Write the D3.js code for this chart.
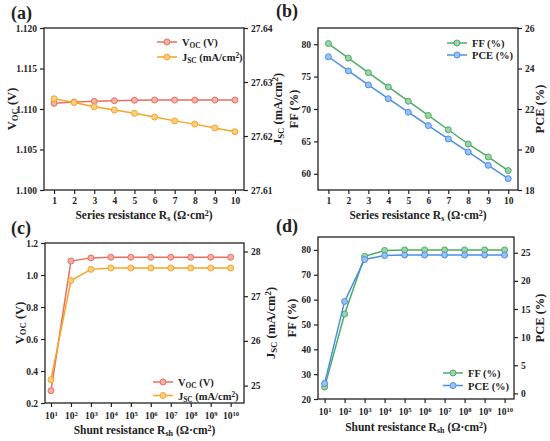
<!DOCTYPE html>
<html>
<head>
<meta charset="utf-8">
<script src="https://cdn.jsdelivr.net/npm/d3@7"></script>
<style>
  body { margin: 0; background: #fff; }
  #chart text { font-family: "Liberation Serif", "Times New Roman", Times, serif !important; font-weight: 700; fill: #222; }
</style>
</head>
<body>
<svg id="chart" width="550" height="441" font-family="Liberation Serif"></svg>
<script>
// series resistance sweep
const rsValues = [1, 2, 3, 4, 5, 6, 7, 8, 9, 10];
const vocRs = [1.1107, 1.11086, 1.11095, 1.11102, 1.11108, 1.1111, 1.1111, 1.1111, 1.1111, 1.1111];
const jscRs = [27.6269, 27.6262, 27.6254, 27.6248, 27.6242, 27.6235, 27.6228, 27.6222, 27.6215, 27.6208];
const ffRs = [80.1, 77.85, 75.6, 73.4, 71.2, 69.0, 66.8, 64.6, 62.6, 60.5];
const pceRs = [24.58, 23.88, 23.19, 22.51, 21.84, 21.18, 20.52, 19.88, 19.22, 18.56];

// shunt resistance sweep
const rshValues = [1e1, 1e2, 1e3, 1e4, 1e5, 1e6, 1e7, 1e8, 1e9, 1e10];
const vocRsh = [0.277, 1.087, 1.107, 1.111, 1.111, 1.111, 1.111, 1.111, 1.111, 1.111];
const jscRsh = [25.13, 27.35, 27.6, 27.63, 27.63, 27.63, 27.63, 27.63, 27.63, 27.63];
const ffRsh = [24.8, 54.2, 77.4, 79.8, 80.0, 80.0, 80.0, 80.0, 80.0, 80.0];
const pceRsh = [1.77, 16.35, 23.8, 24.5, 24.6, 24.6, 24.6, 24.6, 24.6, 24.6];

// tick labels
const vocTicksA = [1.100, 1.105, 1.110, 1.115, 1.120];
const jscTicksA = [27.61, 27.62, 27.63, 27.64];
const ffTicksB = [60, 65, 70, 75, 80];
const pceTicksB = [18, 20, 22, 24, 26];
const vocTicksC = [0.2, 0.4, 0.6, 0.8, 1.0, 1.2];
const jscTicksC = [25, 26, 27, 28];
const ffTicksD = [20, 30, 40, 50, 60, 70, 80];
const pceTicksD = [0, 5, 10, 15, 20, 25];

const red = "#e8705e", orange = "#f5a623", green = "#4cad64", blue = "#4b8eea";

const svg = d3.select("#chart");

// write text made of plain / sub / sup parts
function rich(t, parts) {
  parts.forEach(([s, kind]) => {
    const sp = t.append("tspan").text(s);
    if (kind === "sub") sp.attr("baseline-shift", "-25%").attr("font-size", "70%");
    if (kind === "sup") sp.attr("baseline-shift", "40%").attr("font-size", "70%");
  });
  return t;
}

const vocLabel = [["V", ""], ["OC", "sub"], [" (V)", ""]];
const jscLabel = [["J", ""], ["SC", "sub"], [" (mA/cm", ""], ["2", "sup"], [")", ""]];
const ffLabel = [["FF (%)", ""]];
const pceLabel = [["PCE (%)", ""]];

function panel(cfg) {
  const g = svg.append("g");
  const x = cfg.log
    ? d3.scaleLog().domain(cfg.xDomain).range([cfg.left, cfg.right])
    : d3.scaleLinear().domain(cfg.xDomain).range([cfg.left, cfg.right]);
  const yL = d3.scaleLinear().domain(cfg.lDomain).range([cfg.bottom, cfg.top]);
  const yR = d3.scaleLinear().domain(cfg.rDomain).range([cfg.bottom, cfg.top]);

  const xAxis = d3.axisBottom(x).tickValues(cfg.xValues).tickSize(4).tickPadding(3);
  if (!cfg.log) xAxis.tickFormat(d3.format("d"));
  else xAxis.tickFormat("");

  const ax = g.append("g").attr("transform", `translate(0,${cfg.bottom})`).call(xAxis);
  if (cfg.log) {
    ax.selectAll(".tick").append("text")
      .attr("y", 16).attr("text-anchor", "middle")
      .each(function (d) {
        rich(d3.select(this), [["10", ""], [String(Math.round(Math.log10(d))), "sup"]]);
      });
  }
  g.append("g").attr("transform", `translate(${cfg.left},0)`)
    .call(d3.axisLeft(yL).tickValues(cfg.lTicks).tickFormat(d3.format(cfg.lFmt)).tickSize(4).tickPadding(3));
  g.append("g").attr("transform", `translate(${cfg.right},0)`)
    .call(d3.axisRight(yR).tickValues(cfg.rTicks).tickFormat(d3.format(cfg.rFmt)).tickSize(4).tickPadding(3));

  g.selectAll("g").attr("font-family", null);
  g.selectAll(".domain").remove();
  g.selectAll(".tick line").attr("stroke", "#222").attr("stroke-width", 1.2);
  g.selectAll(".tick text").attr("font-size", 9.5).attr("fill", "#222");

  g.append("rect")
    .attr("x", cfg.left).attr("y", cfg.top)
    .attr("width", cfg.right - cfg.left).attr("height", cfg.bottom - cfg.top)
    .attr("fill", "none").attr("stroke", "#222").attr("stroke-width", 1.3);

  cfg.series.forEach(s => {
    const y = s.axis === "l" ? yL : yR;
    const pts = cfg.xValues.map((v, i) => [v, s.values[i]]);
    g.append("path").datum(pts)
      .attr("fill", "none").attr("stroke", s.color).attr("stroke-width", 1.5)
      .attr("d", d3.line().x(d => x(d[0])).y(d => y(d[1])));
    g.selectAll(null).data(pts).enter().append("circle")
      .attr("cx", d => x(d[0])).attr("cy", d => y(d[1])).attr("r", 3)
      .attr("fill", d3.interpolateRgb(s.color, "#fff")(0.45))
      .attr("stroke", s.color).attr("stroke-width", 1);
  });

  // legend
  cfg.series.forEach((s, i) => {
    const ly = cfg.legY + i * cfg.legGap;
    g.append("line").attr("x1", cfg.legX).attr("x2", cfg.legX + 20)
      .attr("y1", ly).attr("y2", ly).attr("stroke", s.color).attr("stroke-width", 1.5);
    g.append("circle").attr("cx", cfg.legX + 10).attr("cy", ly).attr("r", 3)
      .attr("fill", d3.interpolateRgb(s.color, "#fff")(0.45))
      .attr("stroke", s.color).attr("stroke-width", 1);
    rich(g.append("text").attr("x", cfg.legX + 25).attr("y", ly + 4).attr("font-size", 10.5), s.label);
  });

  const midY = (cfg.top + cfg.bottom) / 2;
  rich(g.append("text").attr("transform", `translate(${cfg.lTitleX},${midY}) rotate(-90)`)
    .attr("text-anchor", "middle").attr("font-size", 12.5), cfg.lTitle);
  rich(g.append("text").attr("transform", `translate(${cfg.rTitleX},${midY}) rotate(-90)`)
    .attr("text-anchor", "middle").attr("font-size", 12.5), cfg.rTitle);
  rich(g.append("text").attr("x", (cfg.left + cfg.right) / 2).attr("y", cfg.xTitleY)
    .attr("text-anchor", "middle").attr("font-size", 11.5), cfg.xTitle);
  g.append("text").attr("x", cfg.tagX).attr("y", cfg.tagY).attr("font-size", 18).text(cfg.tag);
}

const rsTitle = [["Series resistance R", ""], ["s", "sub"], [" (Ω·cm", ""], ["2", "sup"], [")", ""]];
const rshTitle = [["Shunt resistance R", ""], ["sh", "sub"], [" (Ω·cm", ""], ["2", "sup"], [")", ""]];

panel({
  tag: "(a)", tagX: 11, tagY: 19,
  left: 44, right: 244, top: 28, bottom: 190,
  xDomain: [0.5, 10.45], xValues: rsValues,
  lDomain: [1.100, 1.120], lTicks: vocTicksA, lFmt: ".3f",
  rDomain: [27.61, 27.64], rTicks: jscTicksA, rFmt: ".2f",
  lTitle: vocLabel, lTitleX: 16, rTitle: jscLabel, rTitleX: 282,
  xTitle: rsTitle, xTitleY: 219,
  legX: 157, legY: 42, legGap: 15,
  series: [
    { values: vocRs, axis: "l", color: red, label: vocLabel },
    { values: jscRs, axis: "r", color: orange, label: jscLabel }
  ]
});

panel({
  tag: "(b)", tagX: 276, tagY: 17,
  left: 318, right: 518, top: 28, bottom: 190,
  xDomain: [0.48, 10.49], xValues: rsValues,
  lDomain: [57.5, 82.5], lTicks: ffTicksB, lFmt: "d",
  rDomain: [18, 26], rTicks: pceTicksB, rFmt: "d",
  lTitle: ffLabel, lTitleX: 298, rTitle: pceLabel, rTitleX: 544,
  xTitle: rsTitle, xTitleY: 219,
  legX: 447, legY: 43, legGap: 12,
  series: [
    { values: ffRs, axis: "l", color: green, label: ffLabel },
    { values: pceRs, axis: "r", color: blue, label: pceLabel }
  ]
});

panel({
  tag: "(c)", tagX: 11, tagY: 234, log: true,
  left: 45, right: 244, top: 243, bottom: 403,
  xDomain: [Math.pow(10, 0.7), Math.pow(10, 10.67)], xValues: rshValues,
  lDomain: [0.2, 1.2], lTicks: vocTicksC, lFmt: ".1f",
  rDomain: [24.61, 28.19], rTicks: jscTicksC, rFmt: "d",
  lTitle: vocLabel, lTitleX: 24, rTitle: jscLabel, rTitleX: 275,
  xTitle: rshTitle, xTitleY: 434,
  legX: 153, legY: 382, legGap: 13.5,
  series: [
    { values: vocRsh, axis: "l", color: red, label: vocLabel },
    { values: jscRsh, axis: "r", color: orange, label: jscLabel }
  ]
});

panel({
  tag: "(d)", tagX: 276, tagY: 232, log: true,
  left: 318, right: 514, top: 237, bottom: 399,
  xDomain: [Math.pow(10, 0.67), Math.pow(10, 10.47)], xValues: rshValues,
  lDomain: [20, 85.2], lTicks: ffTicksD, lFmt: "d",
  rDomain: [-1, 27.8], rTicks: pceTicksD, rFmt: "d",
  lTitle: ffLabel, lTitleX: 296, rTitle: pceLabel, rTitleX: 544,
  xTitle: rshTitle, xTitleY: 431,
  legX: 443, legY: 373, legGap: 12.5,
  series: [
    { values: ffRsh, axis: "l", color: green, label: ffLabel },
    { values: pceRsh, axis: "r", color: blue, label: pceLabel }
  ]
});
</script>
</body>
</html>
